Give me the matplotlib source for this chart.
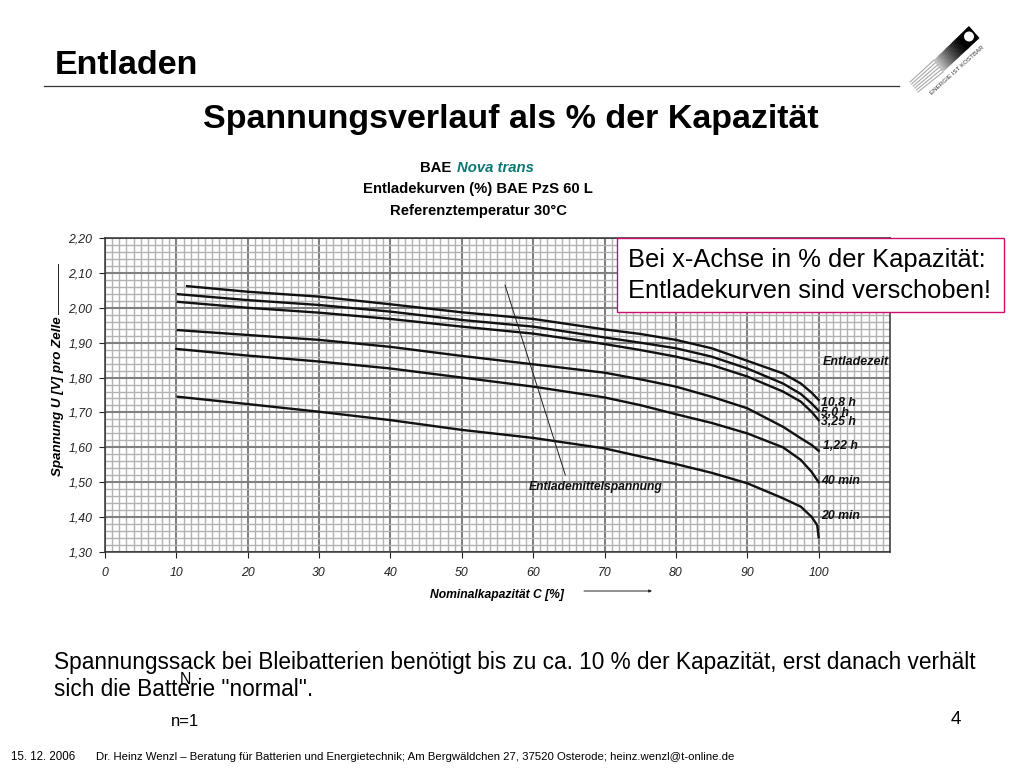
import numpy as np
import matplotlib
matplotlib.use('Agg')
import matplotlib.pyplot as plt
from matplotlib.patches import Polygon, Circle, Rectangle

plt.rcParams['font.family'] = ['Liberation Sans', 'DejaVu Sans']

# curves: capacity in %, voltage per cell
xTail = [20, 30, 40, 50, 60, 70, 75, 80, 85, 90, 95, 97.5, 99, 100]
curves = {
    '10,8 h': ([11.5] + xTail, [2.062, 2.046, 2.032, 2.010, 1.987, 1.968, 1.938, 1.925, 1.908, 1.884, 1.848, 1.812, 1.783, 1.757, 1.736]),
    '5,0 h': ([10.2] + xTail, [2.039, 2.022, 2.008, 1.989, 1.965, 1.946, 1.915, 1.900, 1.884, 1.860, 1.826, 1.783, 1.753, 1.726, 1.705]),
    '3,25 h': ([10.2] + xTail, [2.017, 2.000, 1.986, 1.968, 1.946, 1.926, 1.896, 1.879, 1.860, 1.836, 1.803, 1.760, 1.731, 1.702, 1.678]),
    '1,22 h': ([10.2] + xTail, [1.936, 1.922, 1.908, 1.888, 1.862, 1.838, 1.814, 1.795, 1.774, 1.745, 1.712, 1.659, 1.626, 1.607, 1.590]),
    '40 min': ([10.0] + xTail, [1.882, 1.863, 1.846, 1.826, 1.800, 1.774, 1.743, 1.721, 1.695, 1.670, 1.640, 1.600, 1.564, 1.530, 1.500]),
    '20 min': ([10.2] + xTail[:-1] + [99.8, 100], [1.745, 1.724, 1.702, 1.678, 1.650, 1.627, 1.597, 1.574, 1.552, 1.527, 1.497, 1.454, 1.430, 1.401, 1.377, 1.342]),
}
labelY = {'10,8 h': 1.727, '5,0 h': 1.699, '3,25 h': 1.673, '1,22 h': 1.604, '40 min': 1.504, '20 min': 1.403}
labelX = {'10,8 h': 100.3, '5,0 h': 100.3, '3,25 h': 100.3, '1,22 h': 100.6, '40 min': 100.3, '20 min': 100.3}
meanLineX = [56.06, 64.5]
meanLineY = [2.065, 1.521]
xTicks = np.arange(0, 101, 10)
yTicks = np.arange(1.3, 2.21, 0.1)

W, H = 1024, 768
fig = plt.figure(figsize=(W / 100, H / 100), dpi=100, facecolor='white')

# chart, placed by pixels
left, right, top, bottom = 105, 890, 238, 552
ax = fig.add_axes([left / W, 1 - bottom / H, (right - left) / W, (bottom - top) / H])
ax.set_xlim(0, 110)
ax.set_ylim(1.3, 2.2)
ax.set_xticks(xTicks)
ax.set_yticks(yTicks)
ax.set_xticklabels([str(v) for v in xTicks], fontsize=8.8, style='italic', color='#222222')
ax.set_yticklabels([('%.2f' % v).replace('.', ',') for v in yTicks], fontsize=8.8, style='italic', color='#222222')
ax.set_xticks(np.arange(0, 110.5, 1), minor=True)
ax.set_yticks(np.arange(1.3, 2.2, 0.02), minor=True)
ax.tick_params(which='minor', length=0)
ax.tick_params(which='major', length=4, width=0.8, color='#222222', pad=5)
ax.tick_params(axis='x', which='major', pad=7)
ax.grid(which='minor', color='#b2b2b2', lw=1.0)
ax.grid(which='major', color='#808080', lw=1.5)
ax.set_axisbelow(True)
for s in ax.spines.values():
    s.set_color('#333333')
    s.set_linewidth(1.1)

for name in curves:
    x, y = curves[name]
    ax.plot(x, y, color='#111111', lw=1.7)
    ax.text(labelX[name], labelY[name], name, fontsize=8.8, weight='bold', style='italic', color='#111111', va='center', ha='left')
ax.plot(meanLineX, meanLineY, color='#222222', lw=0.7)
ax.text(59.4, 1.487, 'Entlademittelspannung', fontsize=8.7, weight='bold', style='italic', color='#111111', va='center', ha='left')
ax.text(100.6, 1.845, 'Entladezeit', fontsize=9, weight='bold', style='italic', color='#111111', va='center', ha='left')

# page layer in pixel coordinates for slide text and decoration
page = fig.add_axes([0, 0, 1, 1], facecolor='none')
page.set_xlim(0, W)
page.set_ylim(H, 0)
page.axis('off')


def txt(x, y, s, size, **kw):
    kw.setdefault('va', 'center')
    kw.setdefault('ha', 'left')
    kw.setdefault('color', 'black')
    return page.text(x, y, s, fontsize=size, **kw)


txt(55, 66, 'Entladen', 24.5, weight='bold')
page.plot([44, 899], [85.5, 85.5], color='#333333', lw=0.9)
txt(511, 119.5, 'Spannungsverlauf als % der Kapazität', 24.5, weight='bold', ha='center')

# chart headings
txt(420, 168, 'BAE', 10.7, weight='bold')
txt(457, 168, 'Nova trans', 10.7, weight='bold', style='italic', color='#0b7a75')
txt(478, 189, 'Entladekurven (%) BAE PzS 60 L', 10.7, weight='bold', ha='center')
txt(478, 211, 'Referenztemperatur 30°C', 10.7, weight='bold', ha='center')

# axis titles
txt(497, 595, 'Nominalkapazität C [%]', 8.7, weight='bold', style='italic', ha='center')
page.annotate('', xy=(652, 591), xytext=(584, 591), arrowprops=dict(arrowstyle='-|>', lw=0.7, color='#222222', mutation_scale=4, shrinkA=0, shrinkB=0))
txt(58, 396, 'Spannung U [V] pro Zelle', 9.6, weight='bold', style='italic', rotation=90, ha='center')
page.plot([57.5, 57.5], [264, 314], color='#222222', lw=0.7)

# call-out box
page.add_patch(Rectangle((617, 237.5), 387, 74.5, fc='white', ec='#cc0f6c', lw=1.0, zorder=5))
txt(628, 260, 'Bei x-Achse in % der Kapazität:', 18.4, zorder=6)
txt(628, 291, 'Entladekurven sind verschoben!', 18.4, zorder=6)

# text under the chart
txt(54, 662, 'Spannungssack bei Bleibatterien benötigt bis zu ca. 10 % der Kapazität, erst danach verhält', 16.3)
txt(54, 690, 'sich die Batterie "normal".', 16.3)
txt(180, 680, 'N', 11.5)
txt(171, 722, 'n=1', 12)
txt(951, 719, '4', 13.5)
txt(11, 757.5, '15. 12. 2006', 8.3)
txt(96, 757.5, 'Dr. Heinz Wenzl – Beratung für Batterien und Energietechnik; Am Bergwäldchen 27, 37520 Osterode; heinz.wenzl@t-online.de', 8.2)

# logo: band fading out into rays, with a hole near the dark end
tipA, tipB = np.array([969.0, 26.0]), np.array([979.5, 38.0])
midA, midB = np.array([934.0, 60.0]), np.array([943.0, 72.0])
for i in range(30):
    f0, f1 = i / 30, (i + 1.3) / 30
    shade = str(min(0.8, max(0, f0 - 0.3) ** 1.3 * 1.3))
    page.add_patch(Polygon([tipA + (midA - tipA) * f0, tipB + (midB - tipB) * f0,
                            tipB + (midB - tipB) * f1, tipA + (midA - tipA) * f1], fc=shade, ec='none'))
for i in range(6):
    f = i / 5
    a = midA + (midB - midA) * f
    b = np.array([910.0, 82.0]) + np.array([8.0, 10.0]) * f
    page.plot([a[0], b[0]], [a[1], b[1]], color='#a8a8a8', lw=0.8)
page.add_patch(Circle((969, 36.5), 5, fc='white', ec='none'))
txt(957, 70, 'ENERGIE IST KOSTBAR', 4.5, rotation=42, ha='center', rotation_mode='anchor', color='#333333')

fig.savefig('out.png', dpi=100)
